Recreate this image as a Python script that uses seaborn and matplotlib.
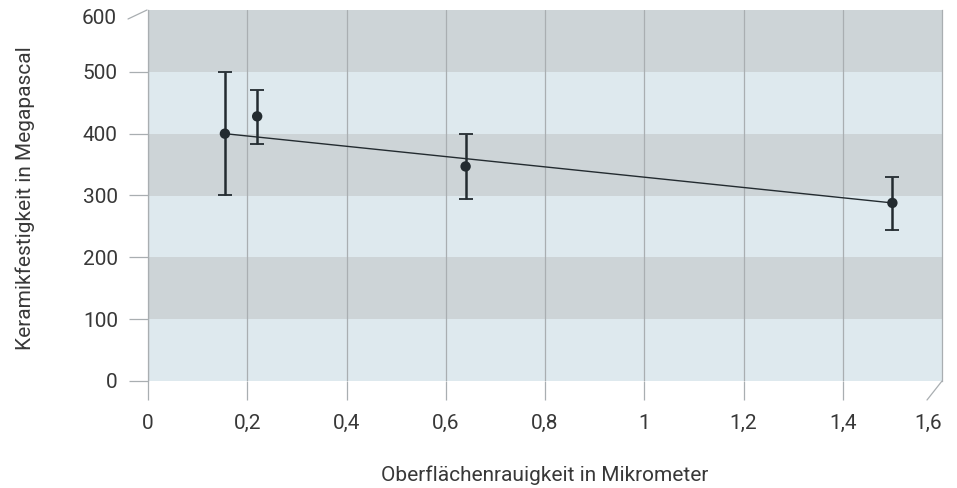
import matplotlib
matplotlib.use("Agg")
import matplotlib.pyplot as plt
from matplotlib.lines import Line2D
from matplotlib.transforms import ScaledTranslation
import seaborn as sns

roughness = [0.155, 0.22, 0.64, 1.50]
strength = [400, 428, 347, 288]
err_low = [300, 384, 294, 244]
err_high = [500, 470, 400, 330]

# regressionsgerade
fit_x = [0.155, 1.50]
fit_y = [400, 288]

x_ticks = [0, 0.2, 0.4, 0.6, 0.8, 1.0, 1.2, 1.4, 1.6]
x_labels = ["0", "0,2", "0,4", "0,6", "0,8", "1", "1,2", "1,4", "1,6"]
y_ticks = [0, 100, 200, 300, 400, 500, 600]
y_labels = ["0", "100", "200", "300", "400", "500", "600"]

x_title = "Oberflächenrauigkeit in Mikrometer"
y_title = "Keramikfestigkeit in Megapascal"

light = "#dee9ee"
dark = "#cdd4d7"
grid = "#a9aeb1"
txt = "#383838"
ink = "#232b30"

sns.set_theme(style="white")
plt.rcParams["font.family"] = ["Roboto", "DejaVu Sans"]

fig = plt.figure(figsize=(9.57, 4.88), dpi=100)
ax = fig.add_axes([148 / 957, 107 / 488, 794 / 957, 371 / 488])

# hintergrundbänder
for i, lo in enumerate(y_ticks[:-1]):
    ax.axhspan(lo, lo + 100, color=light if i % 2 == 0 else dark, lw=0, zorder=0)

ax.set_xlim(x_ticks[0], x_ticks[-1])
ax.set_ylim(y_ticks[0], y_ticks[-1])

ax.set_xticks(x_ticks[:-1])
ax.set_xticklabels(x_labels[:-1])
ax.set_yticks(y_ticks[:-1])
ax.set_yticklabels(y_labels[:-1])
ax.xaxis.grid(True, color=grid, lw=0.9, zorder=1)
ax.set_axisbelow(True)

ax.tick_params(axis="x", length=13.7, width=0.9, color=grid, direction="out",
               pad=10, labelsize=15, labelcolor=txt, bottom=True)
ax.tick_params(axis="y", length=13.7, width=0.9, color=grid, direction="out",
               pad=8, labelsize=15, labelcolor=txt, left=True)

for side in ["top", "bottom"]:
    ax.spines[side].set_visible(False)
for side in ["left", "right"]:
    ax.spines[side].set_color(grid)
    ax.spines[side].set_linewidth(0.9)

# sonderlabels an den "3d"-ecken
ax.text(0, y_ticks[-1], y_labels[-1], ha="right", va="center", fontsize=15, color=txt,
        transform=ax.transData + ScaledTranslation(-31 / 100, -9 / 100, fig.dpi_scale_trans))
ax.text(x_ticks[-1], 0, x_labels[-1], ha="center", va="top", fontsize=15, color=txt,
        transform=ax.transData + ScaledTranslation(-14 / 100, -33 / 100, fig.dpi_scale_trans))

fig.add_artist(Line2D([128 / 957, 147 / 957], [1 - 19 / 488, 1 - 10 / 488], color=grid, lw=0.9))
fig.add_artist(Line2D([942 / 957, 927 / 957], [1 - 381 / 488, 1 - 400 / 488], color=grid, lw=0.9))

# daten
sns.lineplot(x=fit_x, y=fit_y, color=ink, lw=1.0, ax=ax, zorder=3)
yerr = [[s - l for s, l in zip(strength, err_low)], [h - s for s, h in zip(strength, err_high)]]
ax.errorbar(roughness, strength, yerr=yerr, fmt="none", ecolor=ink, elinewidth=1.8,
            capsize=4.7, capthick=1.3, zorder=4)
sns.scatterplot(x=roughness, y=strength, s=56, color=ink, edgecolor="none", ax=ax, zorder=5)

ax.set_xlabel(x_title, fontsize=15, color=txt)
ax.set_ylabel(y_title, fontsize=15, color=txt)
ax.xaxis.set_label_coords(0.5, -(465 - 381) / 371)
ax.xaxis.label.set_va("top")
ax.yaxis.set_label_coords(-0.142, 0.493)

fig.savefig("out.png", dpi=100)
